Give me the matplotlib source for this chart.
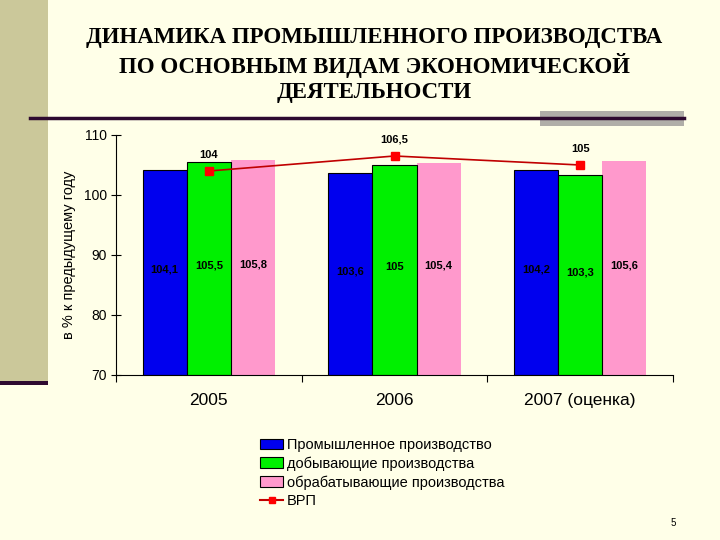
import matplotlib
matplotlib.use("Agg")
import matplotlib.pyplot as plt
from matplotlib.patches import Rectangle, Patch
from matplotlib.lines import Line2D

categories = ["2005", "2006", "2007 (оценка)"]
prom = [104.1, 103.6, 104.2]
dobyv = [105.5, 105.0, 103.3]
obrab = [105.8, 105.4, 105.6]
vrp = [104.0, 106.5, 105.0]
yticks = [70, 80, 90, 100, 110]
series_names = ["Промышленное производство", "добывающие производства",
                "обрабатывающие производства", "ВРП"]
title = "ДИНАМИКА ПРОМЫШЛЕННОГО ПРОИЗВОДСТВА\nПО ОСНОВНЫМ ВИДАМ ЭКОНОМИЧЕСКОЙ\nДЕЯТЕЛЬНОСТИ"
ylabel = "в % к предыдущему году"

BG = "#FFFFE8"
C_BLUE = "#0000EE"
C_GREEN = "#00F000"
C_PINK = "#FF99CC"
C_LINE = "#C00000"
C_MARK = "#FF0000"
DARK = "#2E0A30"

plt.rcParams['font.family'] = ['Liberation Sans', 'DejaVu Sans']

def fmt(v):
    s = ("%.1f" % v)
    if s.endswith(".0"):
        s = s[:-2]
    return s.replace(".", ",")

fig = plt.figure(figsize=(7.2, 5.4), dpi=100, facecolor=BG)

# decorations
fig.patches.append(Rectangle((0, 1 - 382/540), 48/720, 382/540, transform=fig.transFigure,
                             facecolor="#CBC89A", edgecolor="none", zorder=0))
fig.patches.append(Rectangle((0, 1 - 385/540), 48/720, 4/540, transform=fig.transFigure,
                             facecolor=DARK, edgecolor="none", zorder=1))
fig.patches.append(Rectangle((540/720, 1 - 126/540), 144/720, 15/540, transform=fig.transFigure,
                             facecolor="#B0AEA8", edgecolor="none", zorder=1))
fig.lines.append(Line2D([30/720, 684/720], [1 - 118/540, 1 - 118/540], transform=fig.transFigure,
                        color=DARK, linewidth=2.5, zorder=2))

fig.text(374/720, 1 - 65/540, title, ha="center", va="center", fontsize=16.5,
         fontweight="bold", family=["Liberation Serif", "DejaVu Serif"],
         linespacing=1.25, color="black")

fig.text(673/720, 1 - 523/540, "5", ha="center", va="center", fontsize=7)

ax = fig.add_axes([116/720, 1 - 375/540, (673 - 116)/720, (375 - 135)/540])
ax.set_facecolor("none")

x = list(range(len(categories)))
w = 0.238
b1 = ax.bar([i - w for i in x], [v - 70 for v in prom], w, bottom=70, color=C_BLUE,
            edgecolor="black", linewidth=0.8, zorder=2)
b2 = ax.bar(x, [v - 70 for v in dobyv], w, bottom=70, color=C_GREEN,
            edgecolor="black", linewidth=0.8, zorder=2)
b3 = ax.bar([i + w for i in x], [v - 70 for v in obrab], w, bottom=70, color=C_PINK,
            edgecolor="none", zorder=1)

for bars, vals in ((b1, prom), (b2, dobyv), (b3, obrab)):
    for r, v in zip(bars, vals):
        ax.text(r.get_x() + r.get_width()/2, (70 + v)/2 + 0.5, fmt(v), ha="center", va="center",
                fontsize=8, fontweight="bold", color="black", zorder=4)

ax.plot(x, vrp, color=C_LINE, linewidth=1.2, marker="s", markersize=5.5,
        markerfacecolor=C_MARK, markeredgecolor=C_MARK, zorder=5)
for xi, v in zip(x, vrp):
    ax.annotate(fmt(v), (xi, v), xytext=(0, 8), textcoords="offset points", ha="center",
                va="bottom", fontsize=8, fontweight="bold", zorder=6)

ax.set_xlim(-0.5, len(categories) - 0.5)
ax.set_ylim(70, 110)
ax.set_yticks(yticks)
ax.set_yticklabels([str(t) for t in yticks], fontsize=10)
ax.tick_params(axis="y", direction="inout", length=7, width=0.8, pad=3)
ax.set_xticks(x)
ax.set_xticklabels(categories, fontsize=12.5)
ax.tick_params(axis="x", which="major", length=0, pad=13)
ax.set_xticks([i - 0.5 for i in range(len(categories) + 1)], minor=True)
ax.tick_params(axis="x", which="minor", direction="out", length=5, width=0.8)
for s in ("top", "right"):
    ax.spines[s].set_visible(False)
for s in ("left", "bottom"):
    ax.spines[s].set_linewidth(0.8)
ax.set_ylabel(ylabel, fontsize=10.5, labelpad=6)

handles = [Patch(facecolor=C_BLUE, edgecolor="black", linewidth=0.8),
           Patch(facecolor=C_GREEN, edgecolor="black", linewidth=0.8),
           Patch(facecolor=C_PINK, edgecolor="black", linewidth=0.8),
           Line2D([], [], color=C_LINE, linewidth=1.5, marker="s", markersize=4,
                  markerfacecolor=C_MARK, markeredgecolor=C_MARK)]
fig.legend(handles, series_names, loc="upper left", bbox_to_anchor=(260/720, 1 - 438/540),
           frameon=False, fontsize=10.5, handlelength=1.6, handleheight=0.75,
           handletextpad=0.25, labelspacing=0.3, borderaxespad=0, borderpad=0)

fig.savefig("out.png", dpi=100, facecolor=BG)
